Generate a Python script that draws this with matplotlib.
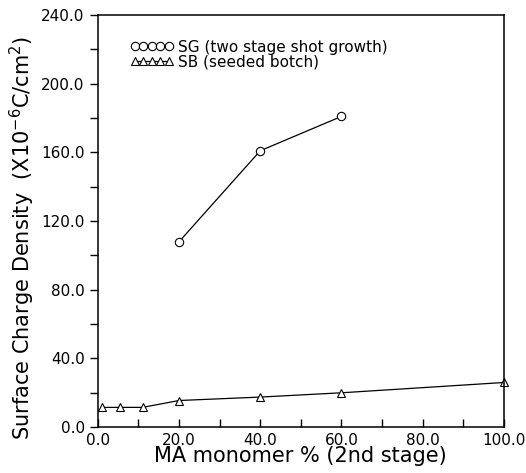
import matplotlib
matplotlib.use("Agg")
import matplotlib.pyplot as plt
from matplotlib.ticker import MultipleLocator, FormatStrFormatter

sg_x = [20, 40, 60]
sg_y = [108, 161, 181]
sb_x = [1, 5.5, 11, 20, 40, 60, 100]
sb_y = [11.5, 11.5, 11.5, 15.5, 17.5, 20, 26]

plt.rcParams['font.family'] = ['DejaVu Sans']
fig = plt.figure(figsize=(5.26, 4.73), dpi=100)
ax = fig.add_axes([0.186, 0.097, 0.772, 0.871])

ax.plot(sg_x, sg_y, color='black', lw=0.9, marker='o', ms=6, mfc='white', mec='black', mew=0.8,
        label='SG (two stage shot growth)')
ax.plot(sb_x, sb_y, color='black', lw=0.9, marker='^', ms=6, mfc='white', mec='black', mew=0.8,
        label='SB (seeded botch)', clip_on=False)

ax.set_xlim(0, 100)
ax.set_ylim(0, 240)
ax.xaxis.set_major_locator(MultipleLocator(20))
ax.xaxis.set_minor_locator(MultipleLocator(10))
ax.yaxis.set_major_locator(MultipleLocator(40))
ax.yaxis.set_minor_locator(MultipleLocator(20))
ax.xaxis.set_major_formatter(FormatStrFormatter('%.1f'))
ax.yaxis.set_major_formatter(FormatStrFormatter('%.1f'))
ax.tick_params(axis='x', which='both', direction='in', length=6, width=1, labelsize=11, pad=4)
ax.tick_params(axis='y', which='both', direction='out', length=6, width=1, labelsize=11)
for s in ax.spines.values():
    s.set_linewidth(1.1)

ax.set_xlabel('MA monomer % (2nd stage)', fontsize=15, labelpad=-1)
ax.set_ylabel('Surface Charge Density  (X10$^{-6}$C/cm$^2$)', fontsize=15)
ax.yaxis.set_label_coords(-0.15, 0.46)

leg = ax.legend(loc='upper left', bbox_to_anchor=(0.065, 0.955), frameon=False, numpoints=5,
                handlelength=2.8, handletextpad=0.3, labelspacing=0.0, fontsize=11,
                borderaxespad=0)
for h in leg.legend_handles:
    h.set_markersize(6)

fig.savefig('out.png', dpi=100)
